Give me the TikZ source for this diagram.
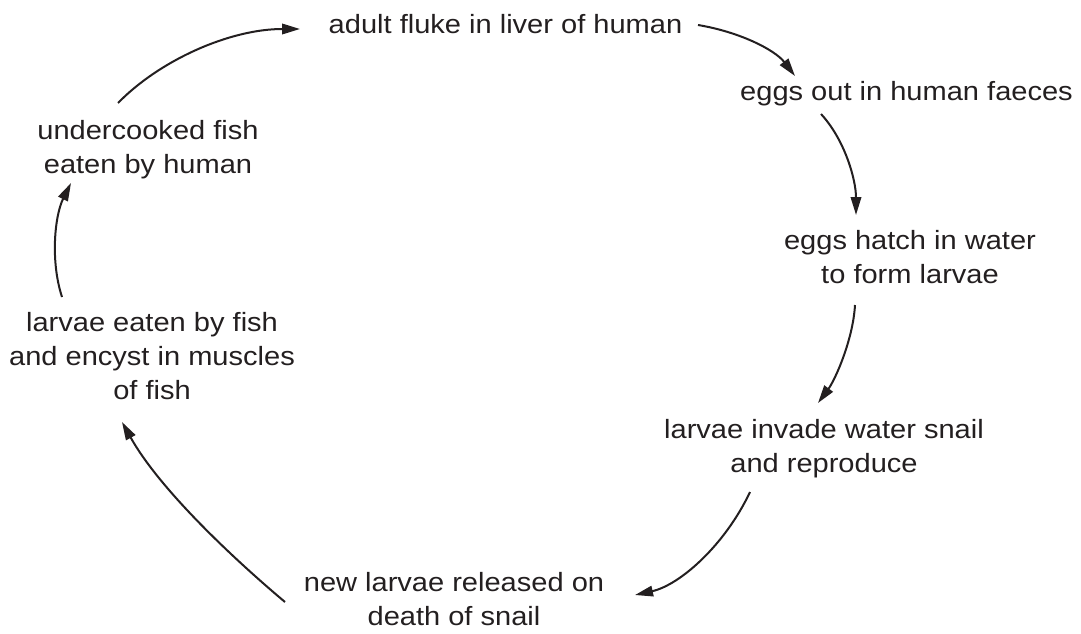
\documentclass[tikz,border=0pt]{standalone}
\usepackage{fontspec}
\setmainfont[FakeStretch=1.10]{Liberation Sans}
\usetikzlibrary{arrows.meta}
\definecolor{ink}{HTML}{231F20}
\begin{document}
\begin{tikzpicture}[x=1pt,y=-1pt,
  lbl/.style={anchor=base,inner sep=0pt,align=center,text=ink,
    font=\fontsize{26.4}{34}\selectfont},
  flow/.style={draw=ink,line width=2pt,-{Triangle[length=18pt,width=10.5pt]}}]
\useasboundingbox (0,0) rectangle (1081,634);
% base anchor = baseline of the last line
\node[lbl] (adult) at (505.5,34) {adult fluke in liver of human};
\node[lbl] (eggsout) at (906.5,100) {eggs out in human faeces};
\node[lbl] (hatch) at (910,283) {eggs hatch in water\\to form larvae};
\node[lbl] (invade) at (824,472) {larvae invade water snail\\and reproduce};
\node[lbl] (newl) at (454,625) {new larvae released on\\death of snail};
\node[lbl] (eaten) at (152,399) {larvae eaten by fish\\and encyst in muscles\\of fish};
\node[lbl] (under) at (148,173) {undercooked fish\\eaten by human};
% connector ends
\coordinate (a1s) at (118,103);  \coordinate (a1e) at (300,29);
\coordinate (a2s) at (698,25);   \coordinate (a2e) at (795,76);
\coordinate (a3s) at (821,114);  \coordinate (a3e) at (856,215);
\coordinate (a4s) at (855,305);  \coordinate (a4e) at (818,403);
\coordinate (a5s) at (750,492);  \coordinate (a5e) at (635,595);
\coordinate (a6s) at (285,602);  \coordinate (a6e) at (122,422);
\coordinate (a7s) at (62,297);   \coordinate (a7e) at (71,183);
\draw[flow] (a1s) .. controls (160,60) and (230,29) .. (a1e);
\draw[flow] (a2s) .. controls (740,32) and (775,50) .. (a2e);
\draw[flow] (a3s) .. controls (845,140) and (856,180) .. (a3e);
\draw[flow] (a4s) .. controls (853,340) and (835,380) .. (a4e);
\draw[flow] (a5s) .. controls (725,545) and (680,585) .. (a5e);
\draw[flow] (a6s) .. controls (235,560) and (160,490) .. (a6e);
\draw[flow] (a7s) .. controls (50,260) and (55,215) .. (a7e);
\end{tikzpicture}
\end{document}
